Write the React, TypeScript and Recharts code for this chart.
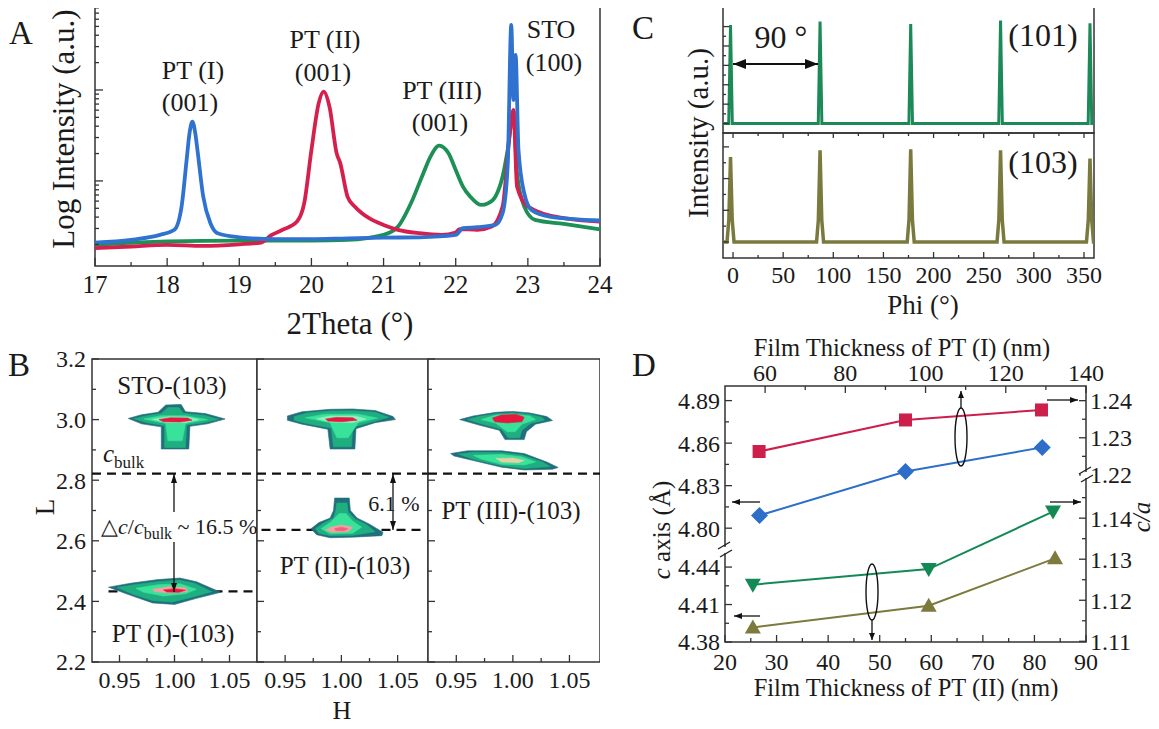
import React from "react";
import {
  LineChart, Line, ScatterChart, Scatter, XAxis, YAxis, ReferenceArea, ReferenceLine, Curve,
} from "recharts";

const SERIF = "'Liberation Serif', 'Times New Roman', serif";
const AX = "#333";
const INK = "#1a1a1a";

// ---------- A: 2theta scans, log intensity (x = 2theta, y = counts) ----------
const aBlue: [number, number][] = [
  [17, 21.0], [17.5, 22.5], [17.9, 25.5], [18.1, 29.0], [18.2, 52.2], [18.27, 170], [18.31, 334],
  [18.35, 449], [18.39, 334], [18.42, 219], [18.5, 67.3], [18.6, 34.3], [18.7, 26.6], [19, 24.0],
  [19.5, 22.9], [20, 22.9], [20.5, 23.4], [21, 23.8], [21.5, 24.0], [22, 25.5], [22.1, 30.2],
  [22.3, 31.0], [22.55, 32.8], [22.65, 44.1], [22.72, 144], [22.77, 5180], [22.8, 776],
  [22.83, 2424], [22.87, 219], [22.95, 73.2], [23.05, 48.0], [23.3, 40.6], [24, 36.7],
];
const aRed: [number, number][] = [
  [17, 18.2], [17.5, 19.0], [18, 19.8], [18.5, 19.3], [19, 20.1], [19.3, 21.0], [19.45, 25.5],
  [19.6, 29.0], [19.8, 35.7], [19.9, 56.9], [20, 219], [20.1, 713], [20.17, 959], [20.25, 656],
  [20.35, 201], [20.4, 156], [20.5, 67.3], [20.6, 52.2], [20.7, 44.1], [20.8, 38.9], [21, 32.8],
  [21.2, 29.0], [21.5, 26.6], [21.8, 25.5], [22, 27.0], [22.05, 29.5], [22.3, 29.0], [22.5, 31.5],
  [22.65, 52.2], [22.75, 334], [22.8, 603], [22.85, 86.7], [23, 52.2], [23.5, 38.9], [24, 35.7],
];
const aGreen: [number, number][] = [
  [17, 19.8], [18, 21.6], [19, 22.1], [20, 22.1], [20.5, 22.5], [21, 25.5], [21.2, 31.5],
  [21.4, 61.8], [21.55, 121], [21.65, 185], [21.77, 244], [21.9, 201], [22, 132], [22.1, 86.7],
  [22.2, 67.3], [22.35, 54.5], [22.45, 56.9], [22.55, 67.3], [22.65, 112], [22.72, 219],
  [22.8, 578], [22.85, 121], [22.95, 52.2], [23.1, 37.3], [23.5, 33.7], [24, 29.4],
];
const aXTicks = [17, 17.5, 18, 18.5, 19, 19.5, 20, 20.5, 21, 21.5, 22, 22.5, 23, 23.5, 24];
const aXMajor = [17, 18, 19, 20, 21, 22, 23, 24];
const aYTicks = [20, 30, 40, 50, 60, 70, 80, 90, 100, 200, 300, 400, 500, 600, 700, 800, 900,
  1000, 2000, 3000, 4000, 5000, 6000, 7000, 8000];
const aYMajor = [100, 1000];

// ---------- B: reciprocal space maps, contour layers as (H, L) outlines ----------
const sto1Edge = [[0.958, 3.004], [0.97, 3.016], [0.985, 3.024], [0.992, 3.048], [1.006, 3.05], [1.01, 3.026], [1.028, 3.02], [1.046, 3.002], [1.03, 2.986], [1.014, 2.978], [1.013, 2.903], [0.988, 2.903], [0.988, 2.976], [0.97, 2.986]];
const sto1Teal = [[0.963, 3.003], [0.975, 3.013], [0.988, 3.02], [0.994, 3.04], [1.004, 3.04], [1.008, 3.021], [1.027, 3.014], [1.04, 3.001], [1.027, 2.99], [1.011, 2.982], [1.01, 2.908], [0.991, 2.908], [0.991, 2.98], [0.975, 2.99]];
const sto1Green = [[0.972, 3.002], [0.988, 3.013], [1.01, 3.013], [1.03, 3.0], [1.01, 2.987], [1.007, 2.93], [0.994, 2.93], [0.992, 2.987]];
const sto1Mint = [[0.98, 3.001], [0.995, 3.009], [1.012, 3.008], [1.022, 3.0], [1.01, 2.99], [0.993, 2.99]];
const sto1Red = [[0.986, 3.0], [0.996, 3.006], [1.012, 3.005], [1.016, 2.998], [1.005, 2.992], [0.99, 2.993]];

const pt1Edge = [[0.94, 2.447], [0.96, 2.46], [0.985, 2.472], [1.005, 2.477], [1.02, 2.465], [1.042, 2.43], [1.02, 2.41], [1.0, 2.39], [0.98, 2.395], [0.96, 2.42]];
const pt1Teal = [[0.948, 2.446], [0.965, 2.456], [0.987, 2.466], [1.005, 2.47], [1.018, 2.46], [1.034, 2.432], [1.016, 2.414], [0.998, 2.398], [0.98, 2.403], [0.962, 2.424]];
const pt1Green = [[0.965, 2.443], [0.985, 2.455], [1.005, 2.458], [1.02, 2.44], [1.01, 2.425], [0.99, 2.418], [0.972, 2.43]];
const pt1Mint = [[0.98, 2.44], [0.995, 2.448], [1.01, 2.445], [1.012, 2.432], [0.995, 2.428], [0.982, 2.432]];
const pt1Red = [[0.99, 2.438], [1.0, 2.442], [1.01, 2.437], [1.004, 2.43], [0.993, 2.431]];

const sto2Edge = [[0.952, 3.012], [0.965, 3.026], [0.99, 3.034], [1.01, 3.035], [1.03, 3.03], [1.046, 3.01], [1.048, 3.0], [1.03, 2.99], [1.013, 2.97], [1.012, 2.903], [0.99, 2.903], [0.988, 2.968], [0.965, 2.985], [0.952, 2.998]];
const sto2Teal = [[0.958, 3.01], [0.97, 3.022], [0.99, 3.028], [1.01, 3.029], [1.03, 3.024], [1.042, 3.008], [1.028, 2.993], [1.01, 2.975], [1.009, 2.91], [0.993, 2.91], [0.991, 2.972], [0.968, 2.988], [0.958, 2.998]];
const sto2Green = [[0.968, 3.006], [0.985, 3.018], [1.015, 3.018], [1.032, 3.005], [1.015, 2.99], [1.006, 2.94], [0.996, 2.94], [0.99, 2.99]];
const sto2Mint = [[0.978, 3.003], [0.99, 3.012], [1.012, 3.012], [1.022, 3.002], [1.01, 2.99], [0.99, 2.992]];
const sto2Red = [[0.986, 3.002], [0.995, 3.007], [1.01, 3.006], [1.014, 2.998], [1.0, 2.993], [0.988, 2.995]];

const pt2Edge = [[0.994, 2.741], [1.007, 2.741], [1.008, 2.7], [1.014, 2.675], [1.025, 2.655], [1.037, 2.628], [1.036, 2.617], [1.01, 2.612], [0.99, 2.61], [0.978, 2.62], [0.973, 2.64], [0.98, 2.66], [0.99, 2.675], [0.993, 2.7]];
const pt2Teal = [[0.996, 2.725], [1.005, 2.725], [1.006, 2.695], [1.012, 2.672], [1.022, 2.654], [1.03, 2.63], [1.01, 2.618], [0.99, 2.617], [0.98, 2.625], [0.977, 2.64], [0.984, 2.658], [0.993, 2.675], [0.995, 2.7]];
const pt2Green = [[0.998, 2.69], [1.004, 2.69], [1.01, 2.665], [1.018, 2.645], [1.01, 2.625], [0.99, 2.623], [0.982, 2.64], [0.99, 2.66]];
const pt2Beige = [[0.99, 2.645], [1.0, 2.652], [1.01, 2.645], [1.006, 2.63], [0.992, 2.628], [0.986, 2.636]];
const pt2Red = [[0.994, 2.64], [1.0, 2.645], [1.006, 2.64], [1.002, 2.633], [0.995, 2.634]];

const sto3Edge = [[0.953, 3.0], [0.965, 3.012], [0.985, 3.024], [1.0, 3.027], [1.015, 3.022], [1.03, 3.01], [1.035, 2.997], [1.02, 2.985], [1.012, 2.96], [1.01, 2.934], [0.993, 2.934], [0.988, 2.965], [0.97, 2.982]];
const sto3Teal = [[0.96, 3.0], [0.97, 3.01], [0.986, 3.019], [1.0, 3.022], [1.014, 3.018], [1.026, 3.007], [1.028, 2.998], [1.016, 2.988], [1.008, 2.965], [1.006, 2.94], [0.996, 2.94], [0.99, 2.968], [0.972, 2.986]];
const sto3Green = [[0.972, 3.0], [0.985, 3.015], [1.0, 3.018], [1.015, 3.012], [1.02, 3.0], [1.008, 2.985], [1.002, 2.96], [0.995, 2.96], [0.985, 2.988]];
const sto3Red = [[0.982, 3.005], [0.99, 3.015], [1.003, 3.017], [1.01, 3.008], [1.008, 2.993], [0.995, 2.989], [0.984, 2.993]];

const pt3Edge = [[0.945, 2.888], [0.96, 2.897], [0.99, 2.897], [1.01, 2.888], [1.03, 2.86], [1.04, 2.842], [1.035, 2.836], [1.01, 2.834], [0.99, 2.843], [0.965, 2.865], [0.948, 2.88]];
const pt3Teal = [[0.952, 2.886], [0.965, 2.892], [0.99, 2.891], [1.008, 2.883], [1.026, 2.86], [1.033, 2.845], [1.01, 2.839], [0.99, 2.848], [0.966, 2.868]];
const pt3Green = [[0.965, 2.882], [0.99, 2.885], [1.008, 2.877], [1.02, 2.86], [1.01, 2.85], [0.99, 2.853], [0.972, 2.87]];
const pt3Beige = [[0.985, 2.872], [1.0, 2.873], [1.01, 2.865], [1.005, 2.858], [0.99, 2.86]];

const cBulkL = 2.822;
const pt1L = 2.433;
const pt2L = 2.636;
const bXTicks = [0.95, 0.975, 1.0, 1.025, 1.05];
const bXMajor = [0.95, 1.0, 1.05];
const bYTicks = [2.2, 2.3, 2.4, 2.5, 2.6, 2.7, 2.8, 2.9, 3.0, 3.1, 3.2];
const bYMajor = [2.2, 2.4, 2.6, 2.8, 3.0, 3.2];

// ---------- C: phi scans ----------
const c101: [number, number][] = [
  [-10, 0], [-4.3, 0], [-2.5, 5085], [-0.7, 0], [85, 0], [86.8, 5256], [88.6, 0], [175.4, 0],
  [177.2, 5137], [179, 0], [265, 0], [266.8, 5308], [268.6, 0], [354.2, 0], [356, 5173], [357.8, 0], [360, 0],
];
const c103: [number, number][] = [
  [-10, 0], [-6, 0], [-4.2, 700], [-2.5, 2681], [-0.8, 700], [1, 0], [83.3, 0], [85.1, 700],
  [86.8, 2893], [88.5, 700], [90.3, 0], [173.7, 0], [175.5, 700], [177.2, 2924], [178.9, 700],
  [180.7, 0], [263.3, 0], [265.1, 700], [266.8, 2893], [268.5, 700], [270.3, 0], [352.5, 0],
  [354.3, 700], [356, 2631], [357.7, 700], [359.5, 0], [360, 0],
];
const cXTicks = [0, 25, 50, 75, 100, 125, 150, 175, 200, 225, 250, 275, 300, 325, 350];
const cXMajor = [0, 50, 100, 150, 200, 250, 300, 350];
const cTopTicks = [0, 500, 1000, 1500, 2000, 2500, 3000, 3500, 4000, 4500, 5000];
const cTopMajor = [0, 1000, 2000, 3000, 4000, 5000];
const cBotTicks = [0, 500, 1000, 1500, 2000, 2500, 3000];
const cBotMajor = [0, 1000, 2000, 3000];

// ---------- D: c axis and c/a vs film thickness ----------
const dRed: [number, number][] = [[58.5, 1.2263], [95.0, 1.2348], [128.9, 1.2375]];
const dBlue: [number, number][] = [[58.6, 4.809], [95.0, 4.84], [129.1, 4.857]];
const dGreen: [number, number][] = [[25.4, 1.1238], [59.5, 1.1276], [83.6, 1.1416]];
const dOlive: [number, number][] = [[25.4, 4.3917], [59.5, 4.409], [84.0, 4.447]];
const dTopTicks = [60, 70, 80, 90, 100, 110, 120, 130, 140];
const dTopMajor = [60, 80, 100, 120, 140];
const dBotTicks = [20, 25, 30, 35, 40, 45, 50, 55, 60, 65, 70, 75, 80, 85, 90];
const dBotMajor = [20, 30, 40, 50, 60, 70, 80, 90];
const dLeftUp = [4.8, 4.815, 4.83, 4.845, 4.86, 4.875, 4.89];
const dLeftUpMajor = [4.8, 4.83, 4.86, 4.89];
const dLeftLo = [4.38, 4.395, 4.41, 4.425, 4.44];
const dLeftLoMajor = [4.38, 4.41, 4.44];
const dRightUp = [1.22, 1.225, 1.23, 1.235, 1.24];
const dRightUpMajor = [1.22, 1.23, 1.24];
const dRightLo = [1.11, 1.115, 1.12, 1.125, 1.13, 1.135, 1.14, 1.145];
const dRightLoMajor = [1.11, 1.12, 1.13, 1.14];

const xy = (a: [number, number][], kx: string, ky: string) => a.map(([u, v]) => ({ [kx]: u, [ky]: v }));
const hl = (a: number[][]) => a.map(([h, l]) => ({ h, l }));

const EDGE = "#206f7c";
const TEAL = "#1fae80";
const GREEN = "#38e29a";
const MINT = "#8ef2bd";
const BEIGE = "#e6cfa2";
const RED = "#e8173f";

const b1Layers: [number[][], string][] = [
  [sto1Edge, EDGE], [sto1Teal, TEAL], [sto1Green, GREEN], [sto1Mint, MINT], [sto1Red, RED],
  [pt1Edge, EDGE], [pt1Teal, TEAL], [pt1Green, GREEN], [pt1Mint, "#f4a0a0"], [pt1Red, RED],
];
const b2Layers: [number[][], string][] = [
  [sto2Edge, EDGE], [sto2Teal, TEAL], [sto2Green, GREEN], [sto2Mint, MINT], [sto2Red, RED],
  [pt2Edge, EDGE], [pt2Teal, TEAL], [pt2Green, GREEN], [pt2Beige, "#f2a0a0"], [pt2Red, "#f06080"],
];
const b3Layers: [number[][], string][] = [
  [sto3Edge, EDGE], [sto3Teal, TEAL], [sto3Green, GREEN], [sto3Red, RED],
  [pt3Edge, EDGE], [pt3Teal, TEAL], [pt3Green, GREEN], [pt3Beige, BEIGE],
];

// inward ticks; labels drawn outside
type Side = "top" | "bottom" | "left" | "right";
type TickOpt = {
  side: Side; majors: number[]; labels?: boolean; fmt?: (v: number) => string;
  font?: number; off?: number; big?: number; small?: number;
};
const near = (list: number[], v: number) => list.some((m) => Math.abs(m - v) < 1e-6);

function makeTick(o: TickOpt) {
  const big = o.big ?? 7;
  const small = o.small ?? 4;
  const font = o.font ?? 24;
  const off = o.off ?? 6;
  return (p: any) => {
    const x = Number(p.x);
    const y = Number(p.y);
    const v = Number(p.payload?.value);
    const major = near(o.majors, v);
    const len = major ? big : small;
    let x2 = x;
    let y2 = y;
    if (o.side === "bottom") y2 = y - len;
    else if (o.side === "top") y2 = y + len;
    else if (o.side === "left") x2 = x + len;
    else x2 = x - len;
    let label = null;
    if (o.labels !== false && major) {
      const txt = o.fmt ? o.fmt(v) : String(v);
      const st = { fill: INK, fontSize: font, fontFamily: SERIF };
      if (o.side === "bottom") label = <text x={x} y={y + off} textAnchor="middle" {...st}>{txt}</text>;
      else if (o.side === "top") label = <text x={x} y={y - off} textAnchor="middle" {...st}>{txt}</text>;
      else if (o.side === "left") label = <text x={x - off} y={y + font * 0.35} textAnchor="end" {...st}>{txt}</text>;
      else label = <text x={x + off} y={y + font * 0.35} textAnchor="start" {...st}>{txt}</text>;
    }
    return (
      <g>
        <line x1={x} y1={y} x2={x2} y2={y2} stroke={AX} strokeWidth={1.3} />
        {label}
      </g>
    );
  };
}

const axisBase = { tickLine: false, axisLine: false, tickSize: 0, tickMargin: 0, interval: 0 as const };

function Blob(props: any) {
  const pts = (props.points || []).filter((q: any) => q && Number.isFinite(q.x) && Number.isFinite(q.y));
  if (pts.length < 3) return null;
  return <Curve points={pts} type="linearClosed" fill={props.tone} stroke={props.tone} strokeWidth={0.6} />;
}

function Rsm({ left, width, yw, hMax, layers, labels, children }: any) {
  return (
    <div style={{ position: "absolute", left, top: 340 }}>
      <ScatterChart width={width} height={360} margin={{ top: 19, right: 0, left: 0, bottom: 0 }}>
        <XAxis type="number" dataKey="h" domain={[0.925, hMax]} allowDataOverflow ticks={bXTicks} height={38}
          {...axisBase} tick={makeTick({ side: "bottom", majors: bXMajor, fmt: (v) => v.toFixed(2), font: 24, off: 26 })} />
        <YAxis type="number" dataKey="l" domain={[2.2, 3.2]} allowDataOverflow ticks={bYTicks} width={yw}
          {...axisBase} tick={makeTick({ side: "left", majors: bYMajor, labels, fmt: (v) => v.toFixed(1), font: 24, off: 6 })} />
        {layers.map(([d, tone]: [number[][], string], i: number) => (
          <Scatter key={i} data={hl(d)} fill={tone} line={<Blob tone={tone} />} shape={() => <g />}
            isAnimationActive={false} />
        ))}
        <ReferenceLine y={cBulkL} stroke="#111" strokeWidth={2.2} strokeDasharray="9 6" />
        {children}
        <ReferenceArea x1={0.925} x2={hMax} y1={2.2} y2={3.2} fill="none" stroke={AX} strokeWidth={1.5} ifOverflow="visible" />
      </ScatterChart>
    </div>
  );
}

const square = (c: string) => (p: any) => (
  <rect key={`s${p.index}`} x={p.cx - 6.5} y={p.cy - 6.5} width={13} height={13} fill={c} />
);
const diamond = (c: string) => (p: any) => (
  <polygon key={`d${p.index}`} points={`${p.cx},${p.cy - 8.5} ${p.cx + 8.5},${p.cy} ${p.cx},${p.cy + 8.5} ${p.cx - 8.5},${p.cy}`} fill={c} />
);
const triUp = (c: string) => (p: any) => (
  <polygon key={`u${p.index}`} points={`${p.cx},${p.cy - 8} ${p.cx + 8},${p.cy + 6} ${p.cx - 8},${p.cy + 6}`} fill={c} />
);
const triDown = (c: string) => (p: any) => (
  <polygon key={`v${p.index}`} points={`${p.cx},${p.cy + 8} ${p.cx + 8},${p.cy - 6} ${p.cx - 8},${p.cy - 6}`} fill={c} />
);

function Arrow({ x1, y1, x2, y2, h = 8, w = 3.5, sw = 1.5, both = false }: any) {
  const a = Math.atan2(y2 - y1, x2 - x1);
  const head = (x: number, y: number, ang: number) => {
    const bx = x - h * Math.cos(ang);
    const by = y - h * Math.sin(ang);
    const px = -Math.sin(ang) * w;
    const py = Math.cos(ang) * w;
    return <polygon points={`${x},${y} ${bx + px},${by + py} ${bx - px},${by - py}`} fill="#111" />;
  };
  return (
    <g>
      <line x1={x1} y1={y1} x2={x2} y2={y2} stroke="#111" strokeWidth={sw} />
      {head(x2, y2, a)}
      {both && head(x1, y1, a + Math.PI)}
    </g>
  );
}

function Brk({ x, y }: { x: number; y: number }) {
  return (
    <g>
      <rect x={x - 5} y={y - 3} width={10} height={6} fill="#fff" />
      <line x1={x - 7} y1={y - 1} x2={x + 5} y2={y - 8} stroke="#222" strokeWidth={1.4} />
      <line x1={x - 5} y1={y + 7} x2={x + 7} y2={y} stroke="#222" strokeWidth={1.4} />
    </g>
  );
}

function T({ x, y, size = 24, rot = false, anchor = "middle", children, italic = false }: any) {
  return (
    <text x={x} y={y} fontSize={size} fontFamily={SERIF} fill={INK} textAnchor={anchor}
      dominantBaseline="central" fontStyle={italic ? "italic" : "normal"}
      transform={rot ? `rotate(-90 ${x} ${y})` : undefined}>
      {children}
    </text>
  );
}

export default function App() {
  return (
    <div style={{ position: "relative", width: 1159, height: 729, margin: -8, background: "#fff", fontFamily: SERIF }}>
      {/* A */}
      <div style={{ position: "absolute", left: 0, top: 0 }}>
        <LineChart width={620} height={300} margin={{ top: 5, right: 20, left: 0, bottom: 0 }}>
          <XAxis type="number" dataKey="x" domain={[17, 24]} ticks={aXTicks} height={34} {...axisBase}
            tick={makeTick({ side: "bottom", majors: aXMajor, font: 25, off: 27, big: 8 })} />
          <YAxis type="number" scale="log" domain={[11.6, 8600]} allowDataOverflow ticks={aYTicks} width={95}
            {...axisBase} tick={makeTick({ side: "left", majors: aYMajor, labels: false, big: 8, small: 4 })} />
          <ReferenceArea x1={17} x2={24} y1={11.6} y2={8600} fill="none" stroke={AX} strokeWidth={1.5} ifOverflow="visible" />
          <Line data={xy(aGreen, "x", "y")} dataKey="y" type="monotone" stroke="#1c9055" strokeWidth={3.8} dot={false} isAnimationActive={false} />
          <Line data={xy(aRed, "x", "y")} dataKey="y" type="monotone" stroke="#d5204e" strokeWidth={3.8} dot={false} isAnimationActive={false} />
          <Line data={xy(aBlue, "x", "y")} dataKey="y" type="monotone" stroke="#2f72d0" strokeWidth={3.8} dot={false} isAnimationActive={false} />
        </LineChart>
      </div>

      {/* B */}
      <Rsm left={0} width={257} yw={92} hMax={1.075} layers={b1Layers} labels={true}>
        <ReferenceLine segment={[{ x: 0.94, y: pt1L }, { x: 1.075, y: pt1L }]} stroke="#111" strokeWidth={2.2} strokeDasharray="9 6" />
      </Rsm>
      <Rsm left={256} width={172} yw={1} hMax={1.077} layers={b2Layers} labels={false}>
        <ReferenceLine segment={[{ x: 0.929, y: pt2L }, { x: 1.074, y: pt2L }]} stroke="#111" strokeWidth={2.2} strokeDasharray="9 6" />
      </Rsm>
      <Rsm left={427} width={173} yw={1} hMax={1.077} layers={b3Layers} labels={false} />

      {/* C top (101) */}
      <div style={{ position: "absolute", left: 640, top: 0 }}>
        <LineChart width={470} height={140} margin={{ top: 7, right: 16, left: 0, bottom: 0 }}>
          <XAxis type="number" dataKey="p" domain={[-10, 360]} allowDataOverflow height={7} tick={false} tickLine={false} axisLine={false} />
          <YAxis type="number" domain={[-487, 6010]} allowDataOverflow ticks={cTopTicks} width={83} {...axisBase}
            tick={makeTick({ side: "left", majors: cTopMajor, labels: false, big: 6, small: 3 })} />
          <ReferenceArea x1={-10} x2={360} y1={-487} y2={6010} fill="none" stroke={AX} strokeWidth={1.5} ifOverflow="visible" />
          <Line data={xy(c101, "p", "v")} dataKey="v" type="linear" stroke="#1b8a57" strokeWidth={3} dot={false} isAnimationActive={false} />
        </LineChart>
      </div>
      {/* C bottom (103) */}
      <div style={{ position: "absolute", left: 640, top: 132 }}>
        <LineChart width={470} height={191} margin={{ top: 0, right: 16, left: 0, bottom: 0 }}>
          <XAxis xAxisId="t" orientation="top" type="number" dataKey="p" domain={[-10, 360]} allowDataOverflow ticks={cXTicks}
            height={1} {...axisBase} tick={makeTick({ side: "top", majors: cXMajor, labels: false, big: 5, small: 3 })} />
          <XAxis xAxisId="b" type="number" dataKey="p" domain={[-10, 360]} allowDataOverflow ticks={cXTicks} height={65}
            {...axisBase} tick={makeTick({ side: "bottom", majors: cXMajor, font: 24, off: 25, big: 6, small: 3 })} />
          <YAxis type="number" domain={[-505, 3438]} allowDataOverflow ticks={cBotTicks} width={83} {...axisBase}
            tick={makeTick({ side: "left", majors: cBotMajor, labels: false, big: 6, small: 3 })} />
          <ReferenceArea xAxisId="b" x1={-10} x2={360} y1={-505} y2={3438} fill="none" stroke={AX} strokeWidth={1.5} ifOverflow="visible" />
          <Line xAxisId="b" data={xy(c103, "p", "v")} dataKey="v" type="linear" stroke="#7a7a3e" strokeWidth={3.5} dot={false} isAnimationActive={false} />
        </LineChart>
      </div>

      {/* D upper: PT(I) thickness (top axis) */}
      <div style={{ position: "absolute", left: 620, top: 330 }}>
        <LineChart width={540} height={399} margin={{ top: 0, right: 0, left: 0, bottom: 87 }}>
          <XAxis xAxisId="top" orientation="top" type="number" dataKey="t" domain={[50, 140]} ticks={dTopTicks} height={56}
            {...axisBase} tick={makeTick({ side: "top", majors: dTopMajor, font: 24, off: 5 })} />
          <YAxis yAxisId="cu" type="number" domain={[4.7197, 4.9003]} allowDataOverflow ticks={dLeftUp} width={105}
            {...axisBase} tick={makeTick({ side: "left", majors: dLeftUpMajor, fmt: (v) => v.toFixed(2), font: 24, off: 5 })} />
          <YAxis yAxisId="rau" orientation="right" type="number" domain={[1.17498, 1.24395]} allowDataOverflow ticks={dRightUp}
            width={74} {...axisBase} tick={makeTick({ side: "right", majors: dRightUpMajor, fmt: (v) => v.toFixed(2), font: 24, off: 4 })} />
          <ReferenceArea xAxisId="top" yAxisId="cu" x1={50} x2={140} y1={4.7197} y2={4.9003} fill="none" stroke={AX} strokeWidth={1.5} ifOverflow="visible" />
          <Line xAxisId="top" yAxisId="rau" data={xy(dRed, "t", "v")} dataKey="v" type="linear" stroke="#cc1f4a" strokeWidth={2}
            dot={square("#cc1f4a")} isAnimationActive={false} />
          <Line xAxisId="top" yAxisId="cu" data={xy(dBlue, "t", "v")} dataKey="v" type="linear" stroke="#2d6fc8" strokeWidth={2}
            dot={diamond("#2d6fc8")} isAnimationActive={false} />
        </LineChart>
      </div>
      {/* D lower: PT(II) thickness (bottom axis) */}
      <div style={{ position: "absolute", left: 620, top: 330 }}>
        <LineChart width={540} height={399} margin={{ top: 56, right: 0, left: 0, bottom: 0 }}>
          <XAxis xAxisId="bot" type="number" dataKey="t" domain={[20, 90]} ticks={dBotTicks} height={87}
            {...axisBase} tick={makeTick({ side: "bottom", majors: dBotMajor, font: 24, off: 28 })} />
          <YAxis yAxisId="cl" type="number" domain={[4.38, 4.585]} allowDataOverflow ticks={dLeftLo} width={105}
            {...axisBase} tick={makeTick({ side: "left", majors: dLeftLoMajor, fmt: (v) => v.toFixed(2), font: 24, off: 5 })} />
          <YAxis yAxisId="ral" orientation="right" type="number" domain={[1.10983, 1.1722]} allowDataOverflow ticks={dRightLo}
            width={74} {...axisBase} tick={makeTick({ side: "right", majors: dRightLoMajor, fmt: (v) => v.toFixed(2), font: 24, off: 4 })} />
          <Line xAxisId="bot" yAxisId="ral" data={xy(dGreen, "t", "v")} dataKey="v" type="linear" stroke="#138a55" strokeWidth={2}
            dot={triDown("#138a55")} isAnimationActive={false} />
          <Line xAxisId="bot" yAxisId="cl" data={xy(dOlive, "t", "v")} dataKey="v" type="linear" stroke="#7c7a3c" strokeWidth={2}
            dot={triUp("#7c7a3c")} isAnimationActive={false} />
        </LineChart>
      </div>

      {/* annotations */}
      <svg width={1159} height={729} style={{ position: "absolute", left: 0, top: 0, pointerEvents: "none" }}>
        {/* A */}
        <T x={21} y={33} size={33}>A</T>
        <T x={63} y={129} size={31} rot>Log Intensity (a.u.)</T>
        <T x={350} y={323} size={31}>2Theta (°)</T>
        <T x={193} y={70} size={26}>PT (I)</T>
        <T x={190} y={102} size={26}>(001)</T>
        <T x={325} y={39} size={26}>PT (II)</T>
        <T x={323} y={72} size={26}>(001)</T>
        <T x={442} y={90} size={26}>PT (III)</T>
        <T x={440} y={122} size={26}>(001)</T>
        <T x={551} y={29} size={26}>STO</T>
        <T x={554} y={62} size={26}>(100)</T>

        {/* B */}
        <T x={19} y={365} size={33}>B</T>
        <T x={45} y={507} size={27} rot>L</T>
        <T x={342} y={710} size={26}>H</T>
        <T x={172} y={385} size={25}>STO-(103)</T>
        <T x={173} y={633} size={25}>PT (I)-(103)</T>
        <T x={345} y={565} size={25}>PT (II)-(103)</T>
        <T x={511} y={510} size={25}>PT (III)-(103)</T>
        <T x={394} y={503} size={22}>6.1 %</T>
        <text x={103} y={462} fontSize={25} fontFamily={SERIF} fill={INK}>
          <tspan fontStyle="italic">c</tspan>
          <tspan fontSize={17} dy={6}>bulk</tspan>
        </text>
        <text x={101} y={534} fontSize={22} fontFamily={SERIF} fill={INK}>
          <tspan>△</tspan>
          <tspan fontStyle="italic">c</tspan>
          <tspan>/</tspan>
          <tspan fontStyle="italic">c</tspan>
          <tspan fontSize={16} dy={5}>bulk</tspan>
          <tspan dy={-5}> ~ 16.5 %</tspan>
        </text>
        <Arrow x1={174} y1={512} x2={174} y2={474} h={9} w={3} sw={1.3} />
        <Arrow x1={174} y1={542} x2={174} y2={592} h={9} w={3} sw={1.3} />
        <Arrow x1={393} y1={474} x2={393} y2={530} h={9} w={3} sw={1.3} both />

        {/* C */}
        <T x={643} y={28} size={33}>C</T>
        <T x={698} y={133} size={29} rot>Intensity (a.u.)</T>
        <T x={923} y={305} size={27}>Phi (°)</T>
        <T x={1043} y={35} size={32}>(101)</T>
        <T x={1043} y={162} size={32}>(103)</T>
        <T x={781} y={37} size={32}>90 °</T>
        <Arrow x1={733} y1={64} x2={818} y2={64} h={13} w={5} sw={2} both />

        {/* D */}
        <T x={644} y={365} size={33}>D</T>
        <T x={902} y={347} size={24.5}>Film Thickness of PT (I) (nm)</T>
        <T x={906} y={687} size={24.5}>Film Thickness of PT (II) (nm)</T>
        <text x={661} y={530} fontSize={25} fontFamily={SERIF} fill={INK} textAnchor="middle" dominantBaseline="central"
          transform="rotate(-90 661 530)">
          <tspan fontStyle="italic">c</tspan> axis (Å)
        </text>
        <T x={1141} y={517} size={25} rot italic>c/a</T>
        <ellipse cx={961} cy={437} rx={6} ry={29} fill="none" stroke="#111" strokeWidth={1.4} />
        <Arrow x1={961} y1={408} x2={961} y2={391} h={7} w={3} sw={1.3} />
        <ellipse cx={872} cy={592} rx={6} ry={28} fill="none" stroke="#111" strokeWidth={1.4} />
        <Arrow x1={872} y1={620} x2={872} y2={640} h={7} w={3} sw={1.3} />
        <Arrow x1={760} y1={502} x2={732} y2={502} h={8} w={3} sw={1.3} />
        <Arrow x1={1047} y1={400} x2={1078} y2={400} h={8} w={3} sw={1.3} />
        <Arrow x1={1050} y1={502} x2={1081} y2={502} h={8} w={3} sw={1.3} />
        <Arrow x1={760} y1={616} x2={734} y2={616} h={8} w={3} sw={1.3} />
        <Brk x={725} y={550} />
        <Brk x={1086} y={475} />
      </svg>
    </div>
  );
}
